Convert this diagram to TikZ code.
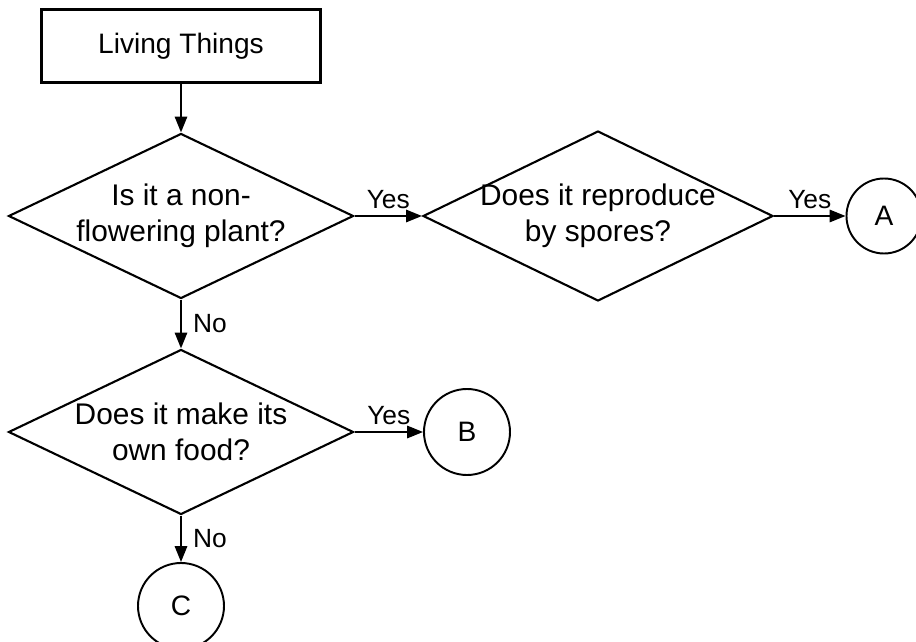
\documentclass[tikz,border=0pt]{standalone}
\usepackage{fontspec}
\setmainfont{Liberation Sans}
\usetikzlibrary{shapes.geometric,arrows.meta,positioning}
\begin{document}
\begin{tikzpicture}[
	font=\fontsize{16}{19.5}\selectfont,
	startbox/.style={draw, line width=1.2pt, minimum width=5.58cm, minimum height=1.46cm},
	question/.style={draw, diamond, aspect=2.07, inner xsep=-0.3cm, inner ysep=0pt, align=center,
		line width=1.2pt, font=\fontsize{17}{20.5}\selectfont, minimum width=6.9cm, minimum height=3.3cm},
	answer/.style={draw, circle, line width=1.1pt, inner sep=0pt, minimum size=1.72cm},
	flow/.style={-{Triangle[length=9pt,width=7pt]}, line width=1.1pt},
	choice/.style={font=\fontsize{15}{18}\selectfont}
	]
	%
	\def\mainx{3.62}
	\def\rowa{8.52}
	\def\rowb{4.2}
	%
	\useasboundingbox (0,0) rectangle (18.32,12.84);
	%
	\node [startbox] (living) at (\mainx,11.92) {Living Things};
	\node [question] (plant) at (\mainx,\rowa) {Is it a non-\\flowering plant?};
	\node [question, minimum width=7cm, minimum height=3.4cm] (spores) at (11.96,\rowa) {Does it reproduce\\by spores?};
	\node [answer, minimum size=1.5cm] (A) at (17.68,\rowa) {A};
	\node [question] (food) at (\mainx,\rowb) {Does it make its\\own food?};
	\node [answer] (B) at (9.34,\rowb) {B};
	\node [answer] (C) at (\mainx,0.72) {C};
	%
	\draw [flow] (living) -- (plant);
	\draw [flow] (plant.east) -- node [choice, above] {Yes} (spores.west);
	\draw [flow] (spores.east) -- node [choice, above] {Yes} (A.west);
	\draw [flow] (plant.south) -- node [choice, anchor=west, xshift=3pt] {No} (food.north);
	\draw [flow] (food.east) -- node [choice, above] {Yes} (B.west);
	\draw [flow] (food.south) -- node [choice, anchor=west, xshift=3pt] {No} (C.north);
\end{tikzpicture}
\end{document}
